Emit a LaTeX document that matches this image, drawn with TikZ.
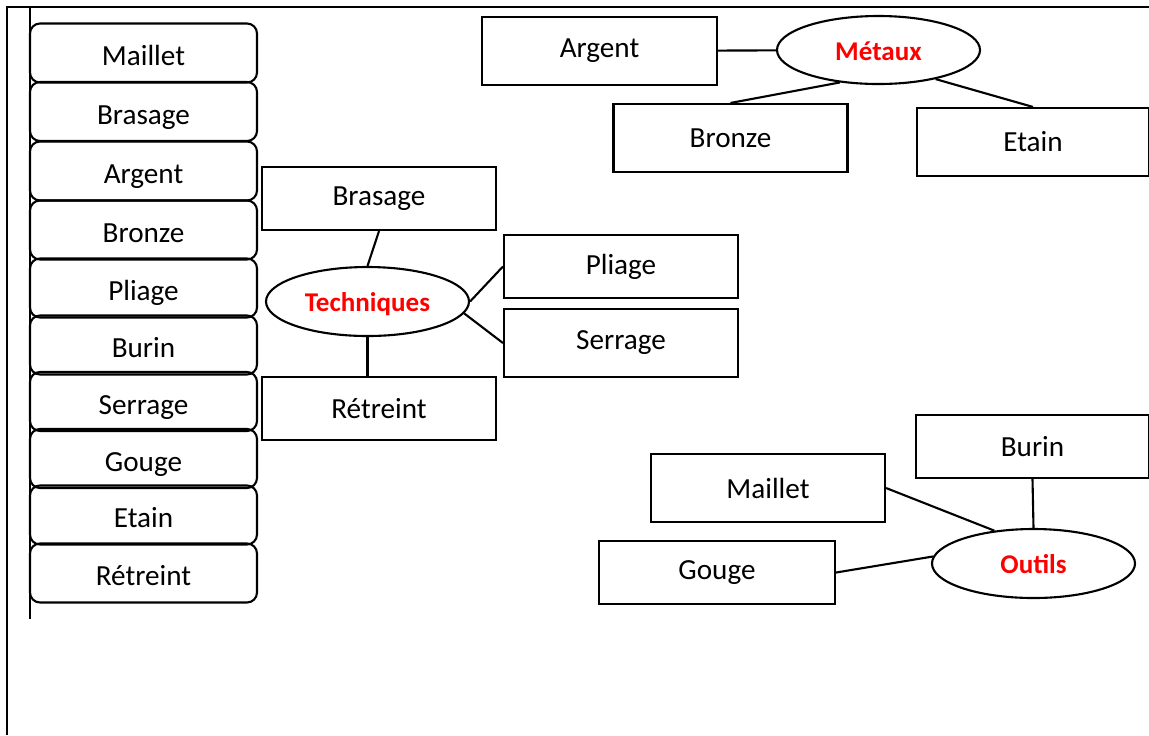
\documentclass[tikz,border=0pt]{standalone}
\usepackage{fontspec}
\setmainfont{Carlito}
\usepackage{tikz}
\usetikzlibrary{shapes.geometric}

\begin{document}
\begin{tikzpicture}[line width=0.6pt,
  font=\fontsize{8.3}{10}\selectfont,
  cell/.style={draw, rounded corners=0.1cm, inner sep=0, minimum width=2.27cm, minimum height=0.59cm,
               text height=0.25cm, text depth=0},
  card/.style={draw, inner sep=0, minimum width=2.34cm, minimum height=0.68cm},
  hub/.style={draw, ellipse, inner sep=0, minimum width=2.03cm, minimum height=0.69cm,
              text height=0.2cm, text depth=0,
              text=red, font=\bfseries\fontsize{7.7}{9}\selectfont}]
\useasboundingbox (0,0) rectangle (11.49,-7.35);

% frame
\draw (0.07,-7.35) -- (0.07,-0.07) -- (11.49,-0.07);
\draw (0.30,-0.07) -- (0.30,-6.19);

% word list
\draw (1.435,-0.53)  node (1)  [cell] {Maillet};
\draw (1.435,-1.115) node (2)  [cell] {Brasage};
\draw (1.435,-1.71)  node (3)  [cell] {Argent};
\draw (1.435,-2.30)  node (4)  [cell] {Bronze};
\draw (1.435,-2.88)  node (5)  [cell] {Pliage};
\draw (1.435,-3.45)  node (6)  [cell] {Burin};
\draw (1.435,-4.015) node (7)  [cell] {Serrage};
\draw (1.435,-4.585) node (8)  [cell] {Gouge};
\draw (1.435,-5.15)  node (9)  [cell] {Etain};
\draw (1.435,-5.73)  node (10) [cell] {Rétreint};

% metaux
\draw (8.785,-0.50)  node (m0) [hub, minimum height=0.68cm] {Métaux};
\draw (5.995,-0.51)  node (m1) [card, minimum width=2.35cm] {Argent};
\draw (7.305,-1.38)  node (m2) [card] {Bronze};
\draw (10.33,-1.42)  node (m3) [card, minimum width=2.32cm] {Etain};
\draw (m1) -- (m0);
\draw (m2.north) -- (m0.220);
\draw (m3.north) -- (m0.-27);

% techniques
\draw (3.675,-3.015) node (t0) [hub] {Techniques};
\draw (3.79,-1.985)  node (t1) [card, minimum height=0.63cm] {Brasage};
\draw (6.21,-2.665)  node (t2) [card, minimum height=0.63cm] {Pliage};
\draw (6.21,-3.43)   node (t3) [card] {Serrage};
\draw (3.79,-4.085)  node (t4) [card, minimum height=0.63cm] {Rétreint};
\draw (t1.south) -- (t0.north);
\draw (t0.east) -- (t2.west);
\draw (t0.-7) -- (t3.west);
\draw (t0.south) -- (t0.south |- t4.north);

% outils
\draw (10.335,-5.635) node (o0) [hub] {Outils};
\draw (10.325,-4.465) node (o1) [card, minimum width=2.33cm, minimum height=0.63cm] {Burin};
\draw (7.68,-4.88)    node (o2) [card] {Maillet};
\draw (7.17,-5.725)   node (o3) [card, minimum width=2.36cm, minimum height=0.63cm] {Gouge};
\draw (o1.south) -- (o0.north);
\draw (o2.east) -- (o0.140);
\draw (o3.east) -- (o0.176);
\end{tikzpicture}
\end{document}
